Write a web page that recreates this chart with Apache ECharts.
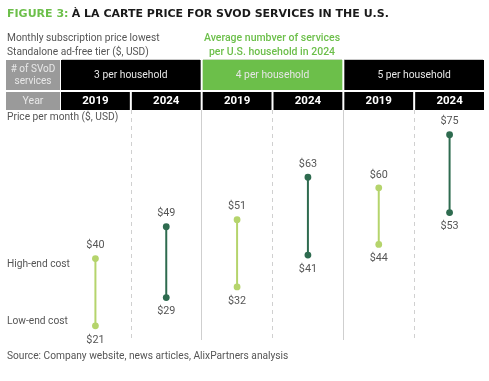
<!DOCTYPE html>
<html><head><meta charset="utf-8">
<script src="https://cdn.jsdelivr.net/npm/echarts@6/dist/echarts.min.js"></script>
<style>html,body{margin:0;padding:0;background:#fff}#c{width:489px;height:381px}</style>
</head><body><div id="c"></div>
<script>
const years = ['2019','2024','2019','2024','2019','2024'];
const groups = ['3 per household','4 per household','5 per household'];
const lowCost = [21,29,32,41,44,53];
const highCost = [40,49,51,63,60,75];

const LIGHT = '#b5d46c', DARK = '#2e6b4f', GREEN = '#6cbf4a';
const FONT = 'Roboto, "Noto Sans", sans-serif';
const gridLeft = 60, gridW = 425, band = gridW / 6;

const chart = echarts.init(document.getElementById('c'));
const data = years.map((y, i) => [i, lowCost[i], highCost[i]]);

const graphics = [];
// title
graphics.push({type:'text', left:7, top:8, style:{
  text:'{g|FIGURE 3:} {b|À LA CARTE PRICE FOR SVOD SERVICES IN THE U.S.}',
  rich:{g:{fill:GREEN, font:'bold 11px "DejaVu Sans"'}, b:{fill:'#1a1a1a', font:'bold 11px "DejaVu Sans"'}}
}});
graphics.push({type:'text', x:7, y:31, style:{text:'Monthly subscription price lowest\nStandalone ad-free tier ($, USD)', fill:'#555', font:'10.2px '+FONT, lineHeight:14}});
graphics.push({type:'text', x:272, y:31, style:{text:'Average numbver of services\nper U.S. household in 2024', fill:GREEN, font:'500 10.5px '+FONT, lineHeight:14, align:'center'}});
// underlines
[[62,200,'#c8c8c8'],[203,342,'#c9dcbf'],[344,483,'#c8c8c8']].forEach(a=>graphics.push({type:'line', shape:{x1:a[0],y1:59.5,x2:a[1],y2:59.5}, style:{stroke:a[2], lineWidth:1}}));
// header row 1
graphics.push({type:'rect', shape:{x:6,y:60,width:54,height:30}, style:{fill:'#9a9a9a'}});
graphics.push({type:'text', x:33, y:75, style:{text:'# of SVoD\nservices', fill:'#e8e8e8', font:'10px '+FONT, lineHeight:12, align:'center', verticalAlign:'middle'}});
groups.forEach((g, k) => {
  const x0 = gridLeft + 2*k*band + 1, x1 = gridLeft + (2*k+2)*band - 1;
  graphics.push({type:'rect', shape:{x:x0,y:60,width:x1-x0,height:30}, style:{fill: k===1 ? GREEN : '#000'}});
  graphics.push({type:'text', x:(x0+x1)/2, y:75, style:{text:g, fill:'#e6e6e6', font:'10.3px '+FONT, align:'center', verticalAlign:'middle'}});
});
// header row 2
graphics.push({type:'rect', shape:{x:6,y:92,width:54,height:18}, style:{fill:'#9a9a9a'}});
graphics.push({type:'text', x:33, y:101, style:{text:'Year', fill:'#e8e8e8', font:'10.5px '+FONT, align:'center', verticalAlign:'middle'}});
years.forEach((y, i) => {
  const x0 = gridLeft + i*band + 1, x1 = gridLeft + (i+1)*band - 1;
  graphics.push({type:'rect', shape:{x:x0,y:92,width:x1-x0,height:18}, style:{fill:'#000'}});
  graphics.push({type:'text', x:(x0+x1)/2, y:101, style:{text:y, fill:'#fff', font:'bold 11.5px '+FONT, align:'center', verticalAlign:'middle'}});
});
graphics.push({type:'text', x:7, y:117, style:{text:'Price per month ($, USD)', fill:'#555', font:'10.2px '+FONT, verticalAlign:'middle'}});
graphics.push({type:'text', x:7, y:264, style:{text:'High-end cost', fill:'#555', font:'10.2px '+FONT, verticalAlign:'middle'}});
graphics.push({type:'text', x:7, y:321, style:{text:'Low-end cost', fill:'#555', font:'10.2px '+FONT, verticalAlign:'middle'}});
graphics.push({type:'text', x:7, y:356, style:{text:'Source: Company website, news articles, AlixPartners analysis', fill:'#555', font:'10.2px '+FONT, verticalAlign:'middle'}});

function renderItem(params, api) {
  const i = api.value(0);
  const lo = api.coord([i, api.value(1)]);
  const hi = api.coord([i, api.value(2)]);
  const c = i % 2 === 0 ? LIGHT : DARK;
  const lab = {fill:'#555', font:'10.8px '+FONT, align:'center', verticalAlign:'middle'};
  return {type:'group', children:[
    {type:'line', shape:{x1:lo[0],y1:lo[1],x2:hi[0],y2:hi[1]}, style:{stroke:c, lineWidth:2}},
    {type:'circle', shape:{cx:hi[0],cy:hi[1],r:3.4}, style:{fill:c}},
    {type:'circle', shape:{cx:lo[0],cy:lo[1],r:3.4}, style:{fill:c}},
    {type:'text', x:hi[0], y:hi[1]-13, style:Object.assign({text:'$'+api.value(2)}, lab)},
    {type:'text', x:lo[0], y:lo[1]+14, style:Object.assign({text:'$'+api.value(1)}, lab)}
  ]};
}

chart.setOption({
  animation:false,
  graphic: graphics,
  grid:{left:gridLeft, width:gridW, top:110, height:230},
  xAxis:[
    {type:'category', data:years.map((y,i)=>i+':'+y), axisLine:{show:false}, axisTick:{show:false}, axisLabel:{show:false},
     splitLine:{show:true, showMinLine:false, showMaxLine:false, lineStyle:{color:'#d0d0d0', type:[4,4], width:1}}},
    {type:'category', data:groups, axisLine:{show:false}, axisTick:{show:false}, axisLabel:{show:false},
     splitLine:{show:true, showMinLine:false, showMaxLine:false, lineStyle:{color:'#cfcfcf', type:'solid', width:1}}}
  ],
  yAxis:{type:'value', min:17, max:82, show:false, splitLine:{show:false}},
  series:[{type:'custom', xAxisIndex:0, renderItem, encode:{x:0, y:[1,2]}, data}]
});
</script></body></html>
